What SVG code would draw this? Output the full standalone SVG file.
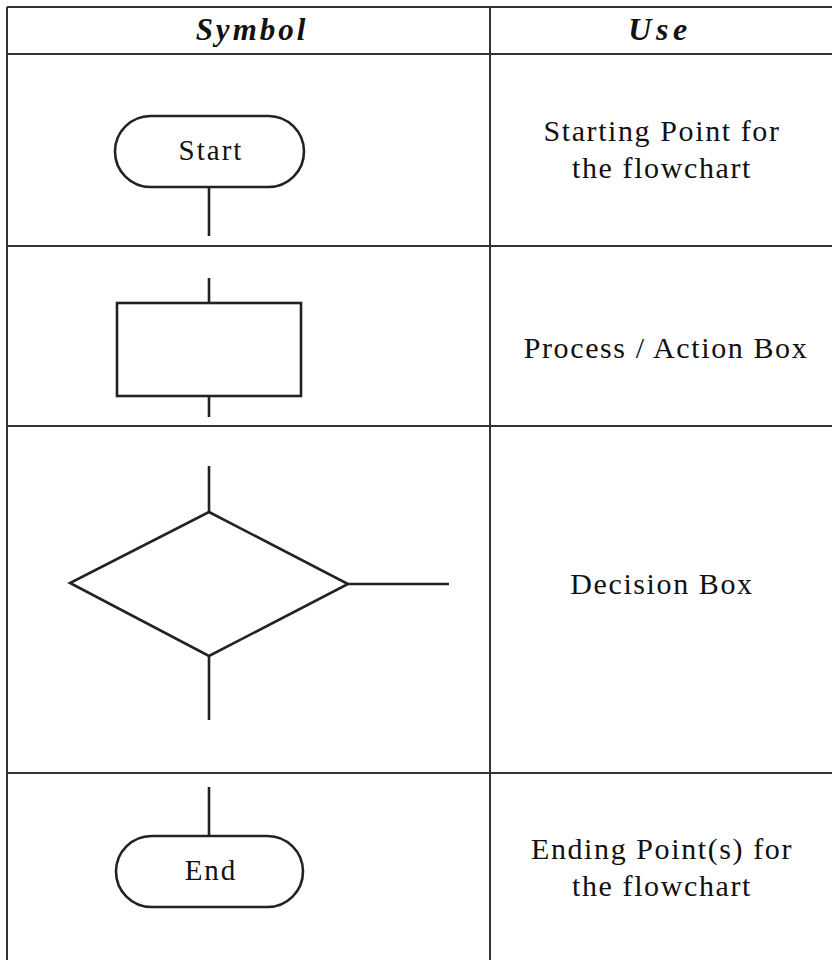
<svg xmlns="http://www.w3.org/2000/svg" width="832" height="960" viewBox="0 0 832 960">
  <style>
    .grid { stroke: #333; stroke-width: 2; fill: none; }
    .shape { stroke: #222; stroke-width: 2.6; fill: #fff; }
    .link { stroke: #222; stroke-width: 2.6; fill: none; }
    .head { font-family: "Liberation Serif", "Times New Roman", serif; font-weight: bold; font-style: italic; font-size: 31px; letter-spacing: 3px; fill: #111; text-anchor: middle; }
    .use { font-family: "Liberation Serif", "Times New Roman", serif; font-size: 30px; letter-spacing: 1.6px; fill: #111; text-anchor: middle; }
    .label { font-family: "Liberation Serif", "Times New Roman", serif; font-size: 29px; letter-spacing: 2px; fill: #111; text-anchor: middle; }
  </style>

  <rect width="832" height="960" fill="#fff"/>

  <!-- table rules -->
  <g id="table">
    <line class="grid" x1="7" y1="7" x2="832" y2="7"/>
    <line class="grid" x1="7" y1="7" x2="7" y2="960"/>
    <line class="grid" x1="490" y1="7" x2="490" y2="960"/>
    <line class="grid" x1="7" y1="54" x2="832" y2="54"/>
    <line class="grid" x1="7" y1="246" x2="832" y2="246"/>
    <line class="grid" x1="7" y1="426" x2="832" y2="426"/>
    <line class="grid" x1="7" y1="773" x2="832" y2="773"/>
    <text class="head" x="252" y="40">Symbol</text>
    <text class="head" x="660" y="40" style="font-size:32px;letter-spacing:4.5px">Use</text>
  </g>

  <!-- connector stubs -->
  <g id="connectors">
    <line class="link" x1="209" y1="187" x2="209" y2="236"/>
    <line class="link" x1="209" y1="278" x2="209" y2="303"/>
    <line class="link" x1="209" y1="396" x2="209" y2="417"/>
    <line class="link" x1="209" y1="466" x2="209" y2="512"/>
    <line class="link" x1="348" y1="584" x2="449" y2="584"/>
    <line class="link" x1="209" y1="656" x2="209" y2="720"/>
    <line class="link" x1="209" y1="787" x2="209" y2="836"/>
  </g>

  <g id="start">
    <rect class="shape" x="115" y="116" width="189" height="71" rx="35.5"/>
    <text class="label" x="211" y="160">Start</text>
  </g>
  <g id="start-use">
    <text class="use" x="662" y="141">Starting Point for</text>
    <text class="use" x="662" y="178">the flowchart</text>
  </g>

  <g id="process">
    <rect class="shape" x="117" y="303" width="184" height="93"/>
  </g>
  <g id="process-use">
    <text class="use" x="666" y="358">Process / Action Box</text>
  </g>

  <g id="decision">
    <polygon class="shape" points="209,512 348,584 209,656 70,583"/>
  </g>
  <g id="decision-use">
    <text class="use" x="662" y="594">Decision Box</text>
  </g>

  <g id="end">
    <rect class="shape" x="116" y="836" width="187" height="71" rx="35.5"/>
    <text class="label" x="211" y="880">End</text>
  </g>
  <g id="end-use">
    <text class="use" x="662" y="859">Ending Point(s) for</text>
    <text class="use" x="662" y="896">the flowchart</text>
  </g>
</svg>
